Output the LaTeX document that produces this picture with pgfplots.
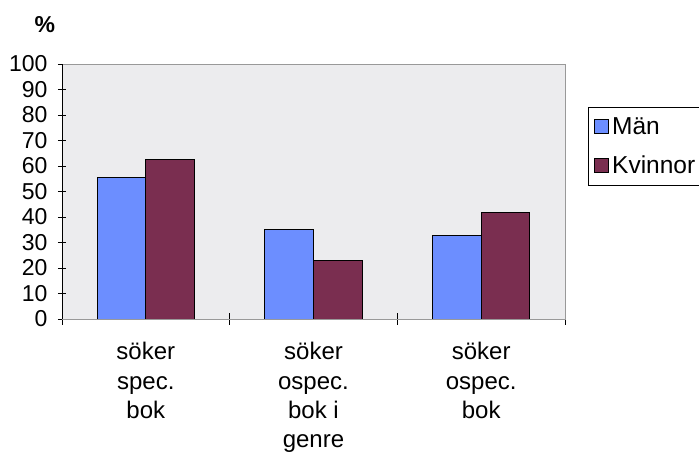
\documentclass[border=0pt]{standalone}
\usepackage{pgfplots}
\pgfplotsset{compat=1.18}
\usepackage{fontspec}
\setmainfont{Liberation Sans}
\definecolor{manblue}{RGB}{108,142,255}
\definecolor{kvmaroon}{RGB}{122,46,80}
\definecolor{plotbg}{RGB}{236,236,238}
\begin{document}
\begin{tikzpicture}
\begin{axis}[
  at={(62bp,135bp)}, anchor=south west,
  scale only axis, width=503bp, height=255bp,
  xmin=0, xmax=3, ymin=0, ymax=100,
  axis background/.style={fill=plotbg},
  axis line style={draw=gray!80},
  ybar=0pt, bar width=0.29,
  ytick={0,10,...,100},
  xtick={0.5,1.5,2.5},
  xticklabels={{söker\\spec.\\bok},{söker\\ospec.\\bok i\\genre},{söker\\ospec.\\bok}},
  minor xtick={0,1,2,3},
  major x tick style={draw=none},
  tick align=center,
  major tick length=8bp, minor tick length=12bp,
  tick style={black, line width=0.8pt},
  ytick pos=left, xtick pos=bottom,
  /pgf/number format/assume math mode=true,
  yticklabel style={anchor=east, xshift=-7bp, font=\fontsize{23bp}{26bp}\selectfont},
  xticklabel style={align=center, anchor=north, yshift=-16bp, font=\fontsize{24bp}{29.2bp}\selectfont},
  ylabel={\textbf{\%}},
  ylabel style={rotate=-90, at={(rel axis cs:-0.034,1.154)}, anchor=center, font=\fontsize{23bp}{26bp}\selectfont},
  legend style={at={(rel axis cs:1.0457,0.8306)}, anchor=north west, draw=black, line width=0.8pt,
    font=\fontsize{24.5bp}{26bp}\selectfont, row sep=16bp, inner xsep=6bp, inner ysep=8bp,
    legend cell align=left, nodes={inner xsep=3bp}},
  legend image code/.code={\draw[#1, line width=0.8pt] (0bp,-7bp) rectangle (14bp,7bp);},
  legend columns=1,
]
\addplot[fill=manblue, draw=black, line width=0.9pt] coordinates {(0.5,55.6) (1.5,35) (2.5,32.6)};
\addplot[fill=kvmaroon, draw=black, line width=0.9pt] coordinates {(0.5,62.5) (1.5,23) (2.5,41.6)};
\legend{Män,Kvinnor}
\draw[black, line width=0.9pt] (rel axis cs:0,0) -- (rel axis cs:0,1);
\draw[black, line width=0.9pt] (rel axis cs:0,0) -- (rel axis cs:1,0);
\end{axis}
\pgfresetboundingbox
\useasboundingbox (0,0) rectangle (699bp,454bp);
\end{tikzpicture}
\end{document}
